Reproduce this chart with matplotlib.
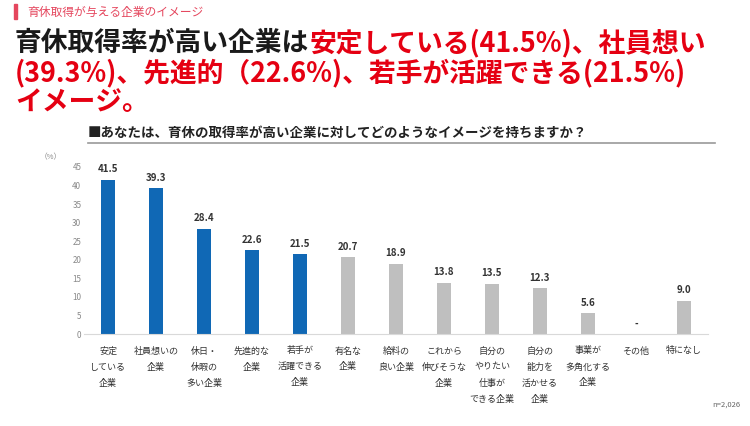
import matplotlib.pyplot as plt
import matplotlib.patches as patches

plt.rcParams['font.family'] = ['Noto Sans CJK JP', 'DejaVu Sans']

# データ
categories = ["安定\nしている\n企業", "社員想いの\n企業", "休日・\n休暇の\n多い企業", "先進的な\n企業",
              "若手が\n活躍できる\n企業", "有名な\n企業", "給料の\n良い企業", "これから\n伸びそうな\n企業",
              "自分の\nやりたい\n仕事が\nできる企業", "自分の\n能力を\n活かせる\n企業", "事業が\n多角化する\n企業",
              "その他", "特になし"]
values = [41.5, 39.3, 28.4, 22.6, 21.5, 20.7, 18.9, 13.8, 13.5, 12.3, 5.6, None, 9.0]
highlight = 5  # 先頭5つを青に

blue = "#1068b5"
grey = "#bfbfbf"
red = "#e50012"

fig = plt.figure(figsize=(7.5, 4.26), dpi=100)

# 見出し
fig.patches.append(patches.Rectangle((14/750, 1-19/426), 3/750, 15/426, transform=fig.transFigure,
                                     color="#e5475e"))
fig.text(27/750, 1-12/426, "育休取得が与える企業のイメージ", fontsize=8.5, color="#e5475e",
         va="center", ha="left")

# タイトル（黒＋赤）
t1 = fig.text(15/750, 1-43/426, "育休取得率が高い企業は", fontsize=19.3, fontweight="bold",
              color="#1a1a1a", va="center", ha="left")
fig.canvas.draw()
bb = t1.get_window_extent().transformed(fig.transFigure.inverted())
fig.text(bb.x1, 1-43/426, "安定している(41.5%)、社員想い", fontsize=19.3,
         fontweight="bold", color=red, va="center", ha="left")
fig.text(15/750, 1-73/426, "(39.3%)、先進的（22.6%)、若手が活躍できる(21.5%)", fontsize=19.3,
         fontweight="bold", color=red, va="center", ha="left")
fig.text(15/750, 1-102/426, "イメージ。", fontsize=19.3, fontweight="bold", color=red,
         va="center", ha="left")

# 設問
fig.text(88/750, 1-133/426, "■あなたは、育休の取得率が高い企業に対してどのようなイメージを持ちますか？",
         fontsize=9.7, fontweight="bold", color="#222222", va="center", ha="left")
fig.add_artist(plt.Line2D([88/750, 715/750], [1-143/426, 1-143/426], color="#999999", lw=1.2))

# グラフ
ax = fig.add_axes([84/750, 92/426, 624/750, 167/426])
x = range(len(categories))
heights = [v if v is not None else 0 for v in values]
colors = [blue if i < highlight else grey for i in x]
ax.bar(x, heights, width=0.31, color=colors)

for i, v in enumerate(values):
    label = "-" if v is None else f"{v:.1f}"
    ax.annotate(label, xy=(i, heights[i]), xytext=(0, 4), textcoords="offset points",
                ha="center", va="bottom", fontsize=7, fontweight="bold", color="#333333")

ax.set_xlim(-0.5, len(categories) - 0.5)
ax.set_ylim(0, 45)
ax.set_yticks(range(0, 46, 5))
ax.tick_params(axis="y", length=0, labelsize=5.8, labelcolor="#888888", pad=2)
ax.set_xticks(list(x))
ax.set_xticklabels(categories, fontsize=6.5, color="#333333", linespacing=2.0, va="top")
ax.tick_params(axis="x", length=0, pad=9)
for s in ["top", "right", "left"]:
    ax.spines[s].set_visible(False)
ax.spines["bottom"].set_color("#d9d9d9")
ax.text(-0.035, 1.06, "（%）", transform=ax.transAxes, fontsize=5.5, color="#888888",
        ha="right", va="center")

fig.text(740/750, 1-405/426, "n=2,026", fontsize=5.5, color="#666666", ha="right", va="center")

fig.savefig("out.png", dpi=100)
